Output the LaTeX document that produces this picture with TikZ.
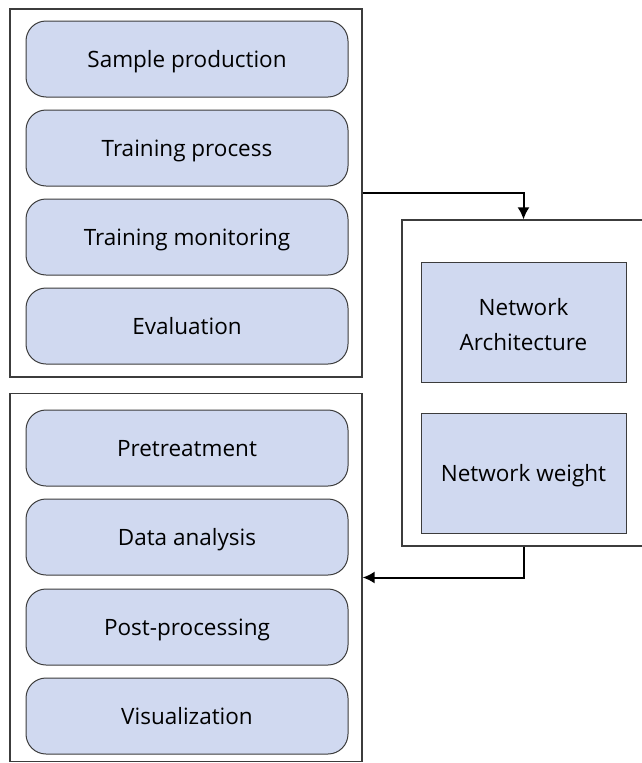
\documentclass[tikz,border=0pt]{standalone}
\usepackage{fontspec}
\setmainfont{Open Sans}
\usetikzlibrary{arrows.meta}

\definecolor{stagefill}{RGB}{208,217,240}
\definecolor{framegray}{RGB}{60,60,60}

\begin{document}
\begin{tikzpicture}[x=1pt,y=-1pt,
  frame/.style={draw=framegray,line width=1.2pt,inner sep=0pt},
  stagebox/.style={draw=framegray,fill=stagefill,line width=1pt,rounded corners=20pt,
    minimum width=322pt,minimum height=76pt,text height=20pt,text depth=4pt,
    font=\fontsize{22.5}{27}\selectfont},
  netbox/.style={draw=framegray,fill=stagefill,line width=1pt,
    minimum width=205pt,minimum height=120pt,align=center,font=\fontsize{22.5}{35}\selectfont},
  flow/.style={line width=2pt,-{Latex[length=12pt,width=12pt]}}]
\useasboundingbox (0,0) rectangle (642,763);

% training side
\node[frame,minimum width=352pt,minimum height=368pt] (train) at (186,193) {};
\node[stagebox] (sample) at (187,59) {Sample production};
\node[stagebox] (process) at (187,148) {Training process};
\node[stagebox] (monitor) at (187,237) {Training monitoring};
\node[stagebox] (eval) at (187,326) {Evaluation};

% application side
\node[frame,minimum width=352pt,minimum height=368pt] (apply) at (186,577.5) {};
\node[stagebox] (pretreat) at (187,448) {Pretreatment};
\node[stagebox] (analysis) at (187,537) {Data analysis};
\node[stagebox] (postproc) at (187,627) {Post-processing};
\node[stagebox] (visual) at (187,716) {Visualization};

% network (runs past the right edge)
\node[frame,minimum width=270pt,minimum height=326pt] (network) at (537,383) {};
\node[netbox] (arch) at (523.5,322) {\rule{0pt}{32pt}Network\\Architecture\strut};
\node[netbox,text height=20pt,text depth=4pt] (weight) at (523.5,473) {Network weight};

% arrows
\draw[flow] (train.east) -| (network.north -| arch.north);
\draw[flow] (network.south -| weight.south) |- (apply.east);
\end{tikzpicture}
\end{document}
